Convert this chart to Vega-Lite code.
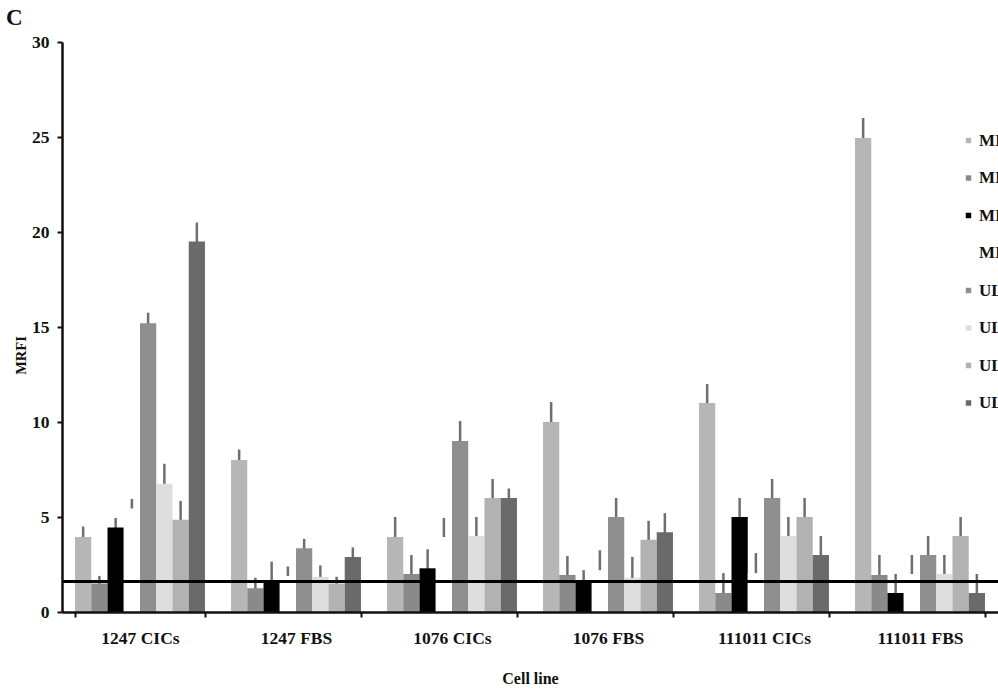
{
  "$schema": "https://vega.github.io/schema/vega-lite/v6.json",
  "width": 936,
  "height": 570,
  "autosize": {"type": "none"},
  "padding": {"left": 62, "top": 42, "right": 0, "bottom": 80},
  "background": "white",
  "title": {"text": "C", "anchor": "start", "frame": "group", "dx": -56, "offset": 3, "fontSize": 23, "font": "Liberation Serif", "fontWeight": "bold", "color": "#111"},
  "config": {
    "view": {"stroke": null},
    "font": "Liberation Serif"
  },
  "data": {
    "values": [
      {"line": "1247 CICs", "marker": "MICA", "mrfi": 3.95, "sd": 0.55},
      {"line": "1247 CICs", "marker": "MICB", "mrfi": 1.5, "sd": 0.4},
      {"line": "1247 CICs", "marker": "MICA/B", "mrfi": 4.45, "sd": 0.5},
      {"line": "1247 CICs", "marker": "MIC", "mrfi": 5.45, "sd": 0.5},
      {"line": "1247 CICs", "marker": "ULBP1", "mrfi": 15.2, "sd": 0.55},
      {"line": "1247 CICs", "marker": "ULBP2", "mrfi": 6.75, "sd": 1.05},
      {"line": "1247 CICs", "marker": "ULBP3", "mrfi": 4.85, "sd": 1.0},
      {"line": "1247 CICs", "marker": "ULBP4", "mrfi": 19.5, "sd": 1.0},

      {"line": "1247 FBS", "marker": "MICA", "mrfi": 8.0, "sd": 0.55},
      {"line": "1247 FBS", "marker": "MICB", "mrfi": 1.25, "sd": 0.55},
      {"line": "1247 FBS", "marker": "MICA/B", "mrfi": 1.65, "sd": 1.0},
      {"line": "1247 FBS", "marker": "MIC", "mrfi": 1.9, "sd": 0.5},
      {"line": "1247 FBS", "marker": "ULBP1", "mrfi": 3.35, "sd": 0.5},
      {"line": "1247 FBS", "marker": "ULBP2", "mrfi": 1.85, "sd": 0.6},
      {"line": "1247 FBS", "marker": "ULBP3", "mrfi": 1.5, "sd": 0.35},
      {"line": "1247 FBS", "marker": "ULBP4", "mrfi": 2.9, "sd": 0.5},

      {"line": "1076 CICs", "marker": "MICA", "mrfi": 3.95, "sd": 1.05},
      {"line": "1076 CICs", "marker": "MICB", "mrfi": 2.0, "sd": 1.0},
      {"line": "1076 CICs", "marker": "MICA/B", "mrfi": 2.3, "sd": 1.0},
      {"line": "1076 CICs", "marker": "MIC", "mrfi": 3.95, "sd": 1.0},
      {"line": "1076 CICs", "marker": "ULBP1", "mrfi": 9.0, "sd": 1.05},
      {"line": "1076 CICs", "marker": "ULBP2", "mrfi": 4.0, "sd": 1.0},
      {"line": "1076 CICs", "marker": "ULBP3", "mrfi": 6.0, "sd": 1.0},
      {"line": "1076 CICs", "marker": "ULBP4", "mrfi": 6.0, "sd": 0.5},

      {"line": "1076 FBS", "marker": "MICA", "mrfi": 10.0, "sd": 1.05},
      {"line": "1076 FBS", "marker": "MICB", "mrfi": 1.95, "sd": 1.0},
      {"line": "1076 FBS", "marker": "MICA/B", "mrfi": 1.65, "sd": 0.55},
      {"line": "1076 FBS", "marker": "MIC", "mrfi": 2.2, "sd": 1.05},
      {"line": "1076 FBS", "marker": "ULBP1", "mrfi": 5.0, "sd": 1.0},
      {"line": "1076 FBS", "marker": "ULBP2", "mrfi": 1.8, "sd": 1.1},
      {"line": "1076 FBS", "marker": "ULBP3", "mrfi": 3.8, "sd": 1.0},
      {"line": "1076 FBS", "marker": "ULBP4", "mrfi": 4.2, "sd": 1.0},

      {"line": "111011 CICs", "marker": "MICA", "mrfi": 11.0, "sd": 1.0},
      {"line": "111011 CICs", "marker": "MICB", "mrfi": 1.0, "sd": 1.05},
      {"line": "111011 CICs", "marker": "MICA/B", "mrfi": 5.0, "sd": 1.0},
      {"line": "111011 CICs", "marker": "MIC", "mrfi": 2.05, "sd": 1.05},
      {"line": "111011 CICs", "marker": "ULBP1", "mrfi": 6.0, "sd": 1.0},
      {"line": "111011 CICs", "marker": "ULBP2", "mrfi": 4.0, "sd": 1.0},
      {"line": "111011 CICs", "marker": "ULBP3", "mrfi": 5.0, "sd": 1.0},
      {"line": "111011 CICs", "marker": "ULBP4", "mrfi": 3.0, "sd": 1.0},

      {"line": "111011 FBS", "marker": "MICA", "mrfi": 24.95, "sd": 1.05},
      {"line": "111011 FBS", "marker": "MICB", "mrfi": 1.95, "sd": 1.05},
      {"line": "111011 FBS", "marker": "MICA/B", "mrfi": 1.0, "sd": 1.0},
      {"line": "111011 FBS", "marker": "MIC", "mrfi": 2.0, "sd": 1.0},
      {"line": "111011 FBS", "marker": "ULBP1", "mrfi": 3.0, "sd": 1.0},
      {"line": "111011 FBS", "marker": "ULBP2", "mrfi": 2.0, "sd": 1.0},
      {"line": "111011 FBS", "marker": "ULBP3", "mrfi": 4.0, "sd": 1.0},
      {"line": "111011 FBS", "marker": "ULBP4", "mrfi": 1.0, "sd": 1.0}
    ]
  },
  "layer": [
    {
      "mark": {"type": "errorbar", "color": "#6e6e6e", "thickness": 2.5},
      "encoding": {
        "x": {
          "field": "line",
          "type": "nominal",
          "sort": null,
          "scale": {"paddingInner": 0.167, "paddingOuter": 0.0835},
          "axis": {
            "zindex": 1,
            "title": "Cell line",
            "titleFont": "Liberation Serif",
            "titleFontWeight": "bold",
            "titleFontSize": 16,
            "titleColor": "#111",
            "titlePadding": 24,
            "labelFont": "Liberation Serif",
            "labelFontWeight": "bold",
            "labelFontSize": 17.5,
            "labelColor": "#111",
            "labelPadding": 12,
            "labelAngle": 0,
            "tickBand": "extent",
            "tickSize": 5,
            "tickColor": "#111",
            "tickWidth": 2,
            "domainColor": "#111",
            "domainWidth": 2.5
          }
        },
        "xOffset": {
          "field": "marker",
          "type": "nominal",
          "sort": ["MICA", "MICB", "MICA/B", "MIC", "ULBP1", "ULBP2", "ULBP3", "ULBP4"],
          "scale": {"paddingInner": 0, "paddingOuter": 0}
        },
        "y": {
          "field": "mrfi",
          "type": "quantitative",
          "scale": {"domain": [0, 30], "nice": false},
          "axis": {
            "zindex": 1,
            "title": "MRFI",
            "titleFont": "Liberation Serif",
            "titleFontWeight": "bold",
            "titleFontSize": 14.5,
            "titleColor": "#111",
            "titlePadding": 3,
            "titleY": 313,
            "values": [0, 5, 10, 15, 20, 25, 30],
            "grid": false,
            "labelFont": "Liberation Serif",
            "labelFontWeight": "bold",
            "labelFontSize": 17.5,
            "labelColor": "#111",
            "labelPadding": 8,
            "tickSize": 5,
            "tickColor": "#111",
            "tickWidth": 2,
            "domainColor": "#111",
            "domainWidth": 2.5
          }
        },
        "yError": {"field": "sd"}
      }
    },
    {
      "mark": {"type": "bar", "width": {"band": 1}, "strokeWidth": 0},
      "encoding": {
        "x": {"field": "line", "type": "nominal", "sort": null},
        "xOffset": {
          "field": "marker",
          "type": "nominal",
          "sort": ["MICA", "MICB", "MICA/B", "MIC", "ULBP1", "ULBP2", "ULBP3", "ULBP4"]
        },
        "y": {"field": "mrfi", "type": "quantitative"},
        "color": {
          "field": "marker",
          "type": "nominal",
          "sort": ["MICA", "MICB", "MICA/B", "MIC", "ULBP1", "ULBP2", "ULBP3", "ULBP4"],
          "scale": {
            "domain": ["MICA", "MICB", "MICA/B", "MIC", "ULBP1", "ULBP2", "ULBP3", "ULBP4"],
            "range": ["#b6b6b6", "#8a8a8a", "#000000", "#ffffff", "#8f8f8f", "#dedede", "#b2b2b2", "#6a6a6a"]
          },
          "legend": {
            "title": null,
            "orient": "none",
            "legendX": 898,
            "legendY": 90,
            "symbolType": "square",
            "symbolSize": 30,
            "symbolStrokeWidth": 0,
            "labelFont": "Liberation Serif",
            "labelFontWeight": "bold",
            "labelFontSize": 17,
            "labelColor": "#111",
            "labelOffset": 2,
            "labelLimit": 300,
            "rowPadding": 19.5
          }
        }
      }
    },
    {
      "mark": {"type": "rule", "color": "#000", "strokeWidth": 2.8},
      "encoding": {"y": {"datum": 1.6, "type": "quantitative"}}
    }
  ]
}
